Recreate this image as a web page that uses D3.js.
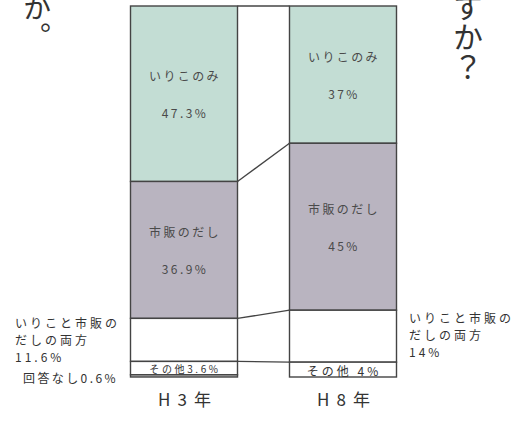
<!DOCTYPE html>
<html>
<head>
<meta charset="utf-8">
<script src="https://cdn.jsdelivr.net/npm/d3@7"></script>
<style>
  body { margin: 0; background: #fff; }
  svg { display: block; font-family: "Noto Sans CJK JP", sans-serif; }
</style>
</head>
<body>
<svg id="chart" width="524" height="439"></svg>
<script>
"use strict"

// data
const years = ["H3年", "H8年"]
const categories = ["いりこのみ", "市販のだし", "いりこと市販のだしの両方", "その他", "回答なし"]
const h3Values = [47.3, 36.9, 11.6, 3.6, 0.6]
const h8Values = [37, 45, 14, 4, 0]
const titleLeft = "か。"
const titleRight = "すか？"

const fills = ["#c3ddd4", "#b9b4c0", "#ffffff", "#ffffff", "#c4c4c4"]
const ink = "#444"

const svg = d3.select("#chart")

const rows = years.map((yr, i) => {
  const vals = i === 0 ? h3Values : h8Values
  const row = { year: yr }
  categories.forEach((c, j) => { row[c] = vals[j] })
  return row
})

const series = d3.stack().keys(categories)(rows)

const x = d3.scaleBand()
  .domain(years)
  .range([130.5, 396.5])
  .paddingInner(0.327)
  .paddingOuter(0)

const y = d3.scaleLinear()
  .domain([0, 100])
  .range([6, 377])

const color = d3.scaleOrdinal().domain(categories).range(fills)

// connecting lines between the bars
const gapX1 = x(years[0]) + x.bandwidth()
const gapX2 = x(years[1])
const bounds = [0, 1, 2].map(k => [series[k][0][1], series[k][1][1]])
bounds.unshift([0, 0])

svg.append("g")
  .selectAll("line")
  .data(bounds)
  .enter().append("line")
    .attr("x1", gapX1)
    .attr("x2", gapX2)
    .attr("y1", b => y(b[0]))
    .attr("y2", b => y(b[1]))
    .attr("stroke", ink)
    .attr("stroke-width", 1.3)

// segments
const segs = svg.append("g")
series.forEach(s => {
  segs.selectAll(null)
    .data(s.filter(d => d[1] - d[0] > 0))
    .enter().append("rect")
      .attr("x", d => x(d.data.year))
      .attr("width", x.bandwidth())
      .attr("y", d => y(d[0]))
      .attr("height", d => y(d[1]) - y(d[0]))
      .attr("fill", color(s.key))
      .attr("stroke", ink)
      .attr("stroke-width", 1.4)
})

// labels inside the two big segments
const inner = svg.append("g")
  .attr("fill", "#4a4a4a")
  .attr("font-size", 12)
  .attr("letter-spacing", 2.4)
  .attr("text-anchor", "middle")
  .attr("dominant-baseline", "central")

series.slice(0, 2).forEach(s => {
  s.forEach(d => {
    const cx = x(d.data.year) + x.bandwidth() / 2 + 1
    const cy = (y(d[0]) + y(d[1])) / 2
    inner.append("text").attr("x", cx).attr("y", cy - 18).text(s.key)
    inner.append("text").attr("x", cx).attr("y", cy + 19).text((d[1] - d[0]).toFixed(d.data.year === years[0] ? 1 : 0) + "%")
  })
})

// その他 labels
const other = series[3]
other.forEach((d, i) => {
  const v = +(d[1] - d[0]).toFixed(1)
  svg.append("text")
    .attr("x", x(d.data.year) + x.bandwidth() / 2 + 1)
    .attr("y", (y(d[0]) + y(d[1])) / 2 + 0.5)
    .attr("text-anchor", "middle")
    .attr("dominant-baseline", "central")
    .attr("font-size", i === 0 ? 10 : 12)
    .attr("letter-spacing", i === 0 ? 2.6 : 3)
    .attr("fill", "#333")
    .text(i === 0 ? categories[3] + v + "%" : categories[3] + " " + v + "%")
})

// annotations outside the bars
const note = svg.append("g")
  .attr("fill", "#333")
  .attr("font-size", 12)
  .attr("letter-spacing", 3)
  .attr("dominant-baseline", "central")

const noteLines = v => ["いりこと市販の", "だしの両方", v + "%"]
noteLines(h3Values[2]).forEach((t, i) => {
  note.append("text").attr("x", 15).attr("y", 322 + i * 17).text(t)
})
noteLines(h8Values[2]).forEach((t, i) => {
  note.append("text").attr("x", 409).attr("y", 317 + i * 17).text(t)
})
note.append("text").attr("x", 23).attr("y", 377).attr("letter-spacing", 2.4)
  .text(categories[4] + h3Values[4] + "%")

// year labels
svg.append("g")
  .selectAll("text")
  .data(years)
  .enter().append("text")
    .attr("x", d => x(d) + x.bandwidth() / 2 + 4)
    .attr("y", 398)
    .attr("text-anchor", "middle")
    .attr("dominant-baseline", "central")
    .attr("font-size", 17)
    .attr("letter-spacing", 7)
    .attr("fill", "#333")
    .text(d => d)

// pieces of the vertical title
svg.append("text")
  .attr("x", 37)
  .attr("y", -6)
  .attr("font-size", 28)
  .attr("fill", "#333")
  .style("writing-mode", "vertical-rl")
  .text(titleLeft)

svg.append("text")
  .attr("x", 468)
  .attr("y", -8)
  .attr("font-size", 30)
  .attr("fill", "#333")
  .style("writing-mode", "vertical-rl")
  .text(titleRight)
</script>
</body>
</html>
